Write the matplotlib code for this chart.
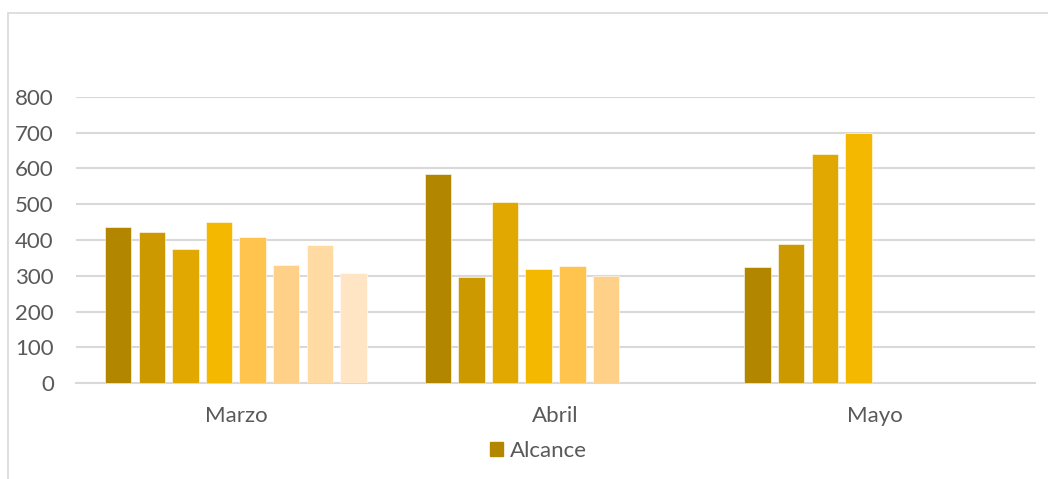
import matplotlib.pyplot as plt
from matplotlib.patches import Patch, Rectangle
import numpy as np

plt.rcParams['font.family'] = ['Lato', 'DejaVu Sans']

months = ['Marzo', 'Abril', 'Mayo']
# one list of values per month (bars in slot order)
marzo = [435, 423, 375, 449, 408, 330, 385, 307]
abril = [583, 298, 507, 318, 328, 300]
mayo = [326, 390, 641, 700]
legend_label = 'Alcance'
yticks = [0, 100, 200, 300, 400, 500, 600, 700, 800]

colors = ['#B38600', '#CC9900', '#E0A800', '#F5B800',
          '#FFC44D', '#FFD088', '#FFDAA3', '#FFE5C4']
text_color = '#595959'
grid_color = '#D9D9D9'

W, H = 1048, 479
fig = plt.figure(figsize=(W / 100, H / 100), dpi=100)
ax = fig.add_axes([76 / W, (H - 383.3) / H, (1035 - 76) / W, (383.3 - 96.7) / H])

slot = 33.6 / 319.7
width = 26.5 / 319.7
for i, vals in enumerate([marzo, abril, mayo]):
    for k, v in enumerate(vals):
        ax.bar(i + (k - 3.5) * slot, v, width=width, color=colors[k],
               edgecolor='white', linewidth=0.4, zorder=3)

ax.set_xlim(-0.5, 2.5)
ax.set_ylim(0, 800)
ax.set_yticks(yticks)
ax.set_xticks(range(len(months)))
ax.set_xticklabels(months)
ax.yaxis.grid(True, color=grid_color, linewidth=1.5, zorder=0)
for s in ['top', 'right', 'left']:
    ax.spines[s].set_visible(False)
ax.spines['bottom'].set_color(grid_color)
ax.spines['bottom'].set_linewidth(1.5)
ax.tick_params(axis='both', length=0, labelsize=16, colors=text_color)
ax.tick_params(axis='y', pad=16)
ax.tick_params(axis='x', pad=16)

fig.legend(handles=[Patch(color=colors[0], label=legend_label)],
           loc='center', bbox_to_anchor=(538 / W, 1 - 451 / H),
           frameon=False, fontsize=16, handlelength=0.6, handleheight=0.6,
           handletextpad=0.3, labelcolor=text_color)

# chart frame (cropped on the right and bottom)
fig.patches.append(Rectangle((8 / W, -0.2), 1.2, 1.2 - 12.7 / H,
                             transform=fig.transFigure, fill=False,
                             edgecolor=grid_color, linewidth=1.2))

fig.savefig('out.png', dpi=100)
